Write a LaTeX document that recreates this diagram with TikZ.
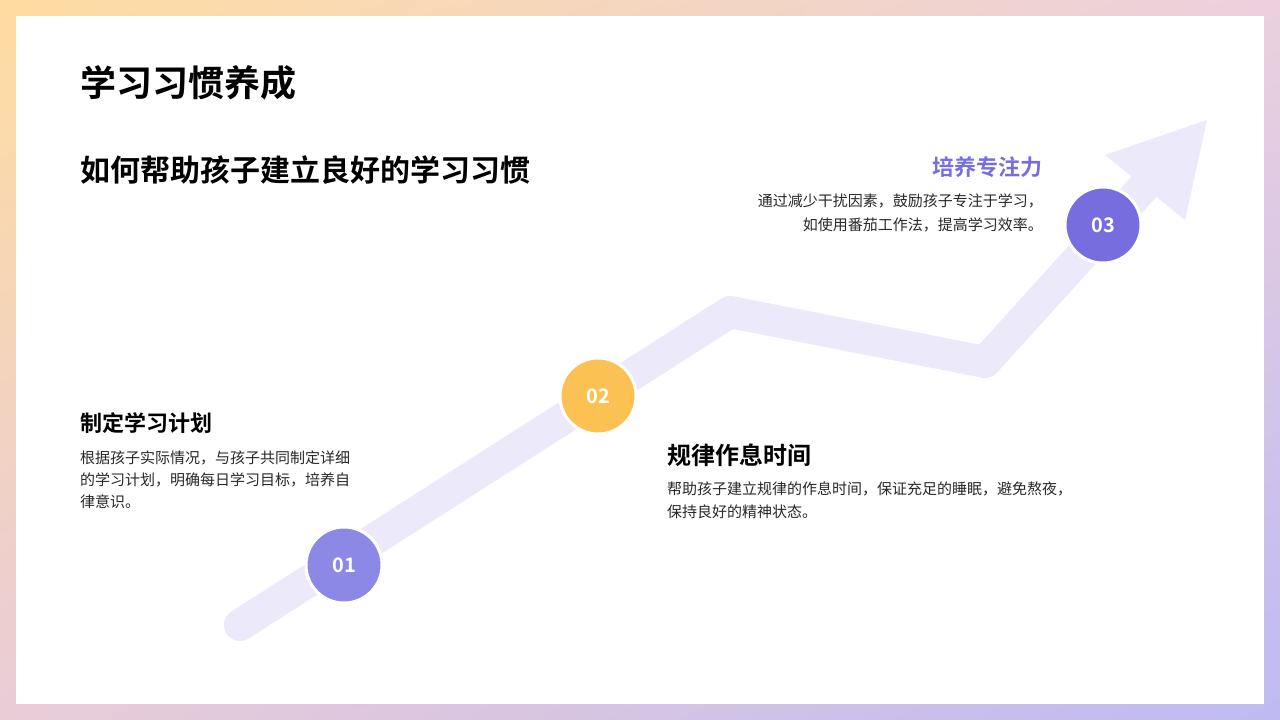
\documentclass[tikz,border=0pt]{standalone}
\usepackage{fontspec}
\setmainfont{Noto Sans CJK SC}[BoldFont={Noto Sans CJK SC Bold}]
\usetikzlibrary{positioning,shadings}
\definecolor{track}{RGB}{236,234,250}
\definecolor{violetA}{RGB}{140,136,230}
\definecolor{orangeB}{RGB}{251,193,82}
\definecolor{violetC}{RGB}{118,110,222}
\definecolor{bodytxt}{RGB}{40,40,40}
\definecolor{frameUL}{RGB}{254,220,160}
\definecolor{frameUR}{RGB}{236,208,222}
\definecolor{frameLL}{RGB}{234,204,216}
\definecolor{frameLR}{RGB}{190,186,242}
\tikzset{
    step circle/.style={circle,draw=white,line width=3pt,minimum size=76pt,text=white,font=\fontsize{20}{24}\selectfont\bfseries},
    head/.style={anchor=base west,font=\fontsize{22}{26}\selectfont\bfseries},
    body/.style={anchor=north west,align=left,text=bodytxt,font=\fontsize{15}{22}\selectfont,inner sep=0pt},
}
\begin{document}
\begin{tikzpicture}[x=1pt,y=-1pt]
    \useasboundingbox (0,0) rectangle (1280,720);
    % frame
    \shade[upper left=frameUL,upper right=frameUR,lower left=frameLL,lower right=frameLR]
        (0,0) rectangle (1280,720);
    \fill[white] (16,16) rectangle (1264,704);
    % titles
    \node (title) [anchor=base west,inner sep=0pt,font=\fontsize{36}{40}\selectfont\bfseries] at (80,96) {学习习惯养成};
    \node (subtitle) [anchor=base west,inner sep=0pt,font=\fontsize{30}{34}\selectfont\bfseries] at (80,181) {如何帮助孩子建立良好的学习习惯};
    % track
    \coordinate (t0) at (240,625);
    \coordinate (t1) at (730,312);
    \coordinate (t2) at (985,362);
    \coordinate (t3) at (1150,180);
    \draw[track,line width=32pt,line cap=round,line join=round] (t0) -- (t1) -- (t2) -- (t3);
    \fill[track] (1207,120) -- (1105,155) -- (1185,220) -- cycle;
    % steps
    \node (s1) [step circle,fill=violetA] at (344,565) {01};
    \node (s2) [step circle,fill=orangeB] at (598,396) {02};
    \node (s3) [step circle,fill=violetC] at (1103,225) {03};
    % step 1
    \node (h1) [head,inner sep=0pt] at (80,431) {制定学习计划};
    \node (b1) [body] at (80,451) {根据孩子实际情况，与孩子共同制定详细\\的学习计划，明确每日学习目标，培养自\\律意识。};
    % step 2
    \node (h2) [head,inner sep=0pt,font=\fontsize{24}{28}\selectfont\bfseries] at (667,464) {规律作息时间};
    \node (b2) [body,font=\fontsize{15}{23}\selectfont] at (667,482) {帮助孩子建立规律的作息时间，保证充足的睡眠，避免熬夜，\\保持良好的精神状态。};
    % step 3
    \node (h3) [anchor=base east,inner sep=0pt,text=violetC,font=\fontsize{22}{26}\selectfont\bfseries] at (1043,175) {培养专注力};
    \node (b3) [anchor=north east,align=right,inner sep=0pt,text=bodytxt,font=\fontsize{15}{24}\selectfont] at (1043,194) {通过减少干扰因素，鼓励孩子专注于学习，\\如使用番茄工作法，提高学习效率。};
\end{tikzpicture}
\end{document}
